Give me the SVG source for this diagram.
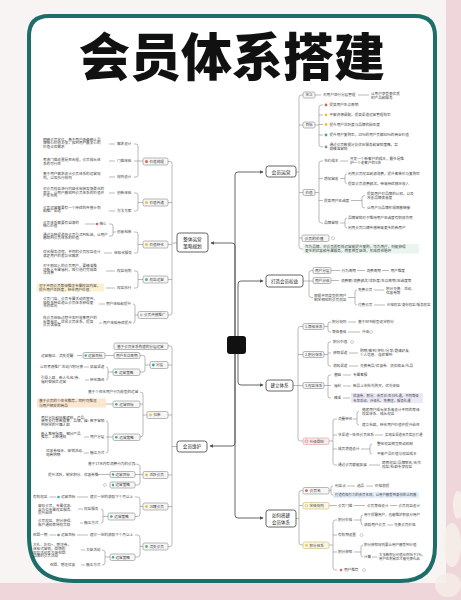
<svg xmlns="http://www.w3.org/2000/svg" width="461" height="600" viewBox="0 0 461 600">
<defs>
<style>
text{font-family:"Noto Sans CJK SC","Noto Sans",sans-serif;fill:#444}
.s{font-size:3.6px}
.m{font-size:3.8px;fill:#333}
.L{font-size:4.8px;fill:#222}
.b1{fill:#fff;stroke:#555;stroke-width:0.9}
.b2{fill:#f6f6f6;stroke:#8a8a8a;stroke-width:0.6}
.by{fill:#fdf6e0;stroke:#cdb77a;stroke-width:0.6}
.c{fill:none;stroke:#8a8a8a;stroke-width:0.6}
.tk{fill:none;stroke:#555;stroke-width:0.9}
.inf{fill:none;stroke:#888;stroke-width:0.4}
.red{fill:#e06060}.yel{fill:#e8c547}.grn{fill:#5bb58a}.tea{fill:#3aa7a0}.blu{fill:#7090d8}.gry{fill:#b8c4cc}
</style>
<marker id="ar" viewBox="0 0 6 6" refX="5" refY="3" markerWidth="4" markerHeight="4" orient="auto"><path d="M0,0 L6,3 L0,6 Z" fill="#555"/></marker>
</defs>
<rect width="461" height="600" fill="#f8f4f4"/>
<rect x="446" y="0" width="15" height="600" fill="#efd6da"/>
<rect x="0" y="583" width="461" height="17" fill="#efd6da"/>
<g opacity="0.85"><ellipse cx="452" cy="545" rx="9" ry="22" fill="#f8f1ea"/><ellipse cx="448" cy="585" rx="13" ry="12" fill="#f6ede6"/><ellipse cx="458" cy="505" rx="5" ry="14" fill="#f8f1ea"/></g>
<path d="M49 16 H415 Q435 16 435 36 V546 Q435 581 400 581 H74 Q29 581 29 536 V36 Q29 16 49 16 Z" fill="#fff" stroke="#1d6e69" stroke-width="4"/>
<text x="232" y="76" font-size="51" font-weight="900" text-anchor="middle" style="fill:#111">会员体系搭建</text>

<g id="connectors">
<path class="tk" marker-end="url(#ar)" d="M235 336 V175 Q235 172 238 172 H263"/>
<path class="tk" marker-end="url(#ar)" d="M235 336 V246 Q235 243 232 243 H211"/>
<path class="tk" marker-end="url(#ar)" d="M238 336 V284 Q238 281 241 281 H263"/>
<path class="tk" marker-end="url(#ar)" d="M238 354 V382 Q238 385 241 385 H263"/>
<path class="tk" marker-end="url(#ar)" d="M235 354 V443 Q235 446 232 446 H210"/>
<path class="tk" marker-end="url(#ar)" d="M235 354 V515 Q235 518 238 518 H263"/>
<path class="c" d="M168 161.5 H170 Q172 161.5 172 163.5 V313 Q172 315 170 315 H168 M168 202.5 H172 M168 244.5 H172 M168 279.5 H172 M172 243 H177"/>
<path class="c" d="M134 144 H136 Q138 144 138 146 V175 Q138 177 136 177 H134 M134 161 H143 M109 144 H115 M109 161 H115 M109 177 H115"/>
<path class="c" d="M134 193 H136 Q138 193 138 195 V209 Q138 211 136 211 H134 M138 202.5 H143 M109 193 H115 M109 211 H115"/>
<path class="c" d="M134 232 H136 Q138 232 138 234 V251 Q138 253 136 253 H134 M138 244.5 H143 M109 224 H111 Q113 224 113 226 V234 Q113 236 111 236 H109 M113 232 H116 M85 224 H95 M104 253 H112"/>
<path class="c" d="M134 271 H136 Q138 271 138 273 V286 Q138 288 136 288 H134 M138 279.5 H143 M106 271 H115 M106 288 H115"/>
<path class="c" d="M133 304 Q135 304 135 306 V321 Q135 323 133 323 M135 315 H138 M99 304 H105 M99 323 H102"/>
<path class="c" d="M168 346 H170 Q172 346 172 348 V544.5 Q172 546.5 170 546.5 H168 M168 365 H172 M168 415 H172 M168 475 H172 M168 506.5 H172 M172 446.5 H177"/>
<path class="c" d="M140 355.5 H143 Q145 355.5 145 357.5 V370 Q145 372 143 372 H140 M145 365 H150 M105 355.5 H114 M77 355.5 H82"/>
<path class="c" d="M106 367 Q108 367 108 369 V378 Q108 380 106 380 M108 372 H113 M84 367 H89 M85 380 H89"/>
<path class="c" d="M140 392 Q143 392 143 394.5 V434.5 Q143 437 140 437 M140 404 H143 M143 415 H147 M106 404 H113"/>
<path class="c" d="M106 421 Q108 421 108 423 V451 Q108 453 106 453 M106 437 H113 M84 421 H89 M84 437 H89 M84 453 H89"/>
<path class="c" d="M134 464 Q140 464 140 466.5 V482.5 Q140 485 137.5 485 H135 M135 474.5 H143 M97 474.5 H110"/>
<path class="c" d="M135 497 H137.5 Q140 497 140 499.5 V514 Q140 516.5 137.5 516.5 H135 M140 506.5 H143 M49.5 497 H56 M77 497 H88"/>
<path class="c" d="M101 509 Q103 509 103 511 V521 Q103 523 101 523 M103 516.5 H108 M78 509 H83 M80 523 H83"/>
<path class="c" d="M135 535 H137.5 Q140 535 140 537.5 V554.5 Q140 557 137.5 557 H135 M140 546.5 H143 M49.5 535 H56 M77 535 H88"/>
<path class="c" d="M102 550 Q105 550 105 552 V563 Q105 565 102 565 M105 557 H110 M81 550 H85 M81 565 H85"/>
<path class="c" d="M303 95 H301.5 Q299 95 299 97.5 V246.5 Q299 249 301.5 249 H303 M299 125 H303 M299 192.5 H303 M299 238 H302 M296 172 H299"/>
<path class="c" d="M315 95 H321 M358 95 H369"/>
<path class="c" d="M323 105 H321.5 Q319 105 319 107.5 V144.5 Q319 147 321.5 147 H323 M319 115 H323 M319 124.5 H323 M319 135 H323 M315 125 H319"/>
<path class="c" d="M323 161 H321.5 Q319 161 319 163.5 V220.5 Q319 223 321.5 223 H323 M319 178.5 H323 M319 200.5 H323 M315 192.5 H319 M340 161 H348"/>
<path class="c" d="M340 178.5 H345 M347 174 Q345 174 345 176 V181.5 Q345 183.5 347 183.5"/>
<path class="c" d="M351 200.5 H362 M365 195.5 Q362 195.5 362 198 V205.5 Q362 208 365 208"/>
<path class="c" d="M340 223 H345 M347 218 Q345 218 345 220 V226 Q345 228 347 228"/>
<path class="c" d="M313 270.5 H311.5 Q309 270.5 309 273 V295 Q309 297.5 311.5 297.5 H313 M303 281 H313"/>
<path class="c" d="M331 270.5 H340 M357 270.5 H365 M382 270.5 H389 M331 280.5 H339"/>
<path class="c" d="M348 297.5 H355 M357 290 Q355 290 355 292 V303 Q355 305 357 305 M374 290 H384 M374 305 H385"/>
<path class="c" d="M303 326.5 H300.5 Q298 326.5 298 329 V438.5 Q298 441 300.5 441 H303 M298 354.5 H303 M293 385.5 H303"/>
<path class="c" d="M331 322 H330 Q328 322 328 324 V330 Q328 332 330 332 H331 M324 326.5 H328 M348 322 H356 M348 332 H360"/>
<path class="c" d="M331 342 H330 Q328 342 328 344 V364 Q328 366 330 366 H331 M324 354.5 H328 M328 353 H331 M349 353 H358 M349 366 H358"/>
<path class="c" d="M331 375 H330 Q328 375 328 377 V396 Q328 398 330 398 H331 M324 385.5 H331 M343 375 H351 M343 386 H351 M343 398 H350"/>
<path class="c" d="M337 419 H335.5 Q333 419 333 421.5 V462.5 Q333 465 335.5 465 H337 M333 435 H337 M333 449 H337 M329 441 H333"/>
<path class="c" d="M353 419 H357 M359 411.5 Q357 411.5 357 413.5 V423 Q357 425 359 425 M375 435 H383"/>
<path class="c" d="M361 449 H370 M372 444 Q370 444 370 446 V452 Q370 454 372 454 M369 465 H380"/>
<path class="c" d="M303 490.5 H301.5 Q299 490.5 299 493 V542.5 Q299 545 301.5 545 H303 M299 505.5 H303 M296 518.5 H299"/>
<path class="c" d="M333 486 Q331 486 331 488 V493 Q331 495 333 495 M329 490.5 H331 M347 486 H355 M366 486 H373"/>
<path class="c" d="M329 505.5 H337 M354 505.5 H365 M390 505.5 H397"/>
<path class="c" d="M337 520 H335.5 Q333 520 333 522.5 V567.5 Q333 570 335.5 570 H337 M333 535 H337 M329 545 H333 M333 552 H337"/>
<path class="c" d="M354 520 H361 M363 515 Q361 515 361 517 V523 Q361 525 363 525 M387 525 H393"/>
<path class="c" d="M354 552 H361 M363 545 Q361 545 361 547 V555 Q361 557 363 557 M372 557 H377"/>
</g>

<g id="center"><rect x="227" y="336" width="19" height="18" rx="3" fill="#111"/></g>

<g id="node-huiyuanyunying">
<rect class="b1" x="266" y="166" width="30" height="11" rx="2.5"/>
<text class="L" x="281" y="173.6" text-anchor="middle">会员运营</text>
<rect class="b2" x="303" y="92" width="12" height="6" rx="1.5"/><text class="s" x="305.4" y="96.3">定义</text>
<text class="s" x="323" y="96.3">对用户进行分层管理</text>
<text class="s" x="371" y="94.8">让用户享受更优质</text><text class="s" x="371" y="98.8">的产品和服务</text>
<rect class="b2" x="303" y="122" width="12" height="6" rx="1.5"/><text class="s" x="305.4" y="126.3">目标</text>
<circle class="red" cx="326" cy="105" r="1.4"/><text class="s" x="329.5" y="106.3">提高用户生命周期</text>
<circle class="yel" cx="326" cy="115" r="1.4"/><text class="s" x="329.5" y="116.3">平衡资源调配，提高渠道运营管理效率</text>
<circle class="yel" cx="326" cy="124.5" r="1.4"/><text class="s" x="329.5" y="125.8">提升用户活跃度与品牌的粘性度</text>
<circle class="tea" cx="326" cy="135" r="1.4"/><text class="s" x="329.5" y="136.3">提升用户复购率，20%的用户贡献80%的商业价值</text>
<circle class="blu" cx="326" cy="147" r="1.4"/><text class="s" x="329.5" y="146.3">通过会员数据分析优化服务和营销策略，实</text><text class="s" x="329.5" y="150.3">现精准营销</text>
<rect class="b2" x="303" y="189.5" width="12" height="6" rx="1.5"/><text class="s" x="305.4" y="193.8">价值</text>
<text class="s" x="324" y="162.3">节约成本</text>
<text class="s" x="350" y="159.8">开发一个新客户的成本，最多是维</text><text class="s" x="350" y="164.3">护一个老客户的5倍</text>
<text class="s" x="324" y="179.8">增加营收</text>
<text class="s" x="348" y="175.3">利用会员权益刺激消费，提升客单价与复购率</text>
<text class="s" x="348" y="184.8">提高会员消费频次，带来持续稳定收入</text>
<text class="s" x="324" y="201.8">提高用户忠诚度</text>
<text class="s" x="367" y="194.8">提高用户对品牌的认知，以及</text><text class="s" x="367" y="198.8">改善品牌满意度</text>
<text class="s" x="367" y="209.3">让用户与品牌形成情感链接</text>
<text class="s" x="324" y="224.3">品牌营销</text>
<text class="s" x="348" y="219.3">品牌营销对于维持用户忠诚度有积极作用</text>
<text class="s" x="348" y="229.3">利用会员口碑传播带来更多的新用户</text>
<rect class="b2" x="302" y="235" width="27" height="6.5" rx="1.5"/><text class="m" x="304.5" y="239.6">会员的价值</text>
<circle class="inf" cx="333" cy="238.2" r="1.6"/>
<rect x="303" y="244" width="116" height="9.5" fill="#e9f5ee"/>
<text class="s" x="305" y="247.8">作为品牌，对会员的有效运营能提升复购，作为用户，则能获得</text>
<text class="s" x="305" y="252.3">更多的优惠和专属服务，两者相互促进，形成良性循环</text>
</g>

<g id="node-dazaoquanyi">
<rect class="b1" x="266" y="275" width="37" height="12" rx="2.5"/>
<text class="L" x="284.5" y="282.8" text-anchor="middle" style="font-size:4.5px">打造会员权益</text>
<rect class="b2" x="313" y="267.5" width="18" height="6" rx="1.5"/><text class="s" x="315" y="271.8">用户分层</text>
<text class="s" x="341.5" y="271.8">行为周期</text><text class="s" x="366.5" y="271.8">消费周期</text><text class="s" x="390.5" y="271.8">用户维度</text>
<rect class="b2" x="313" y="277.5" width="18" height="6" rx="1.5"/><text class="s" x="315" y="281.8">用户分级</text>
<text class="s" x="341" y="281.8">消费额/消费频次/活跃度/生命周期/忠诚度等</text>
<text class="s" x="314" y="296.8">根据不同类型的用户</text><text class="s" x="314" y="300.8">制定相应的会员权益</text>
<text class="s" x="358" y="291.3">免费会员</text><text class="s" x="386" y="289.8">积分兑换、活动、</text><text class="s" x="386" y="293.8">优惠券等</text>
<text class="s" x="358" y="306.3">付费会员</text><text class="s" x="387" y="306.3" style="font-size:3.4px">价格权益/身份权益/服务权益</text>
</g>

<g id="node-jianlitixi">
<rect class="b1" x="266" y="380" width="27" height="11" rx="2.5"/>
<text class="L" x="279.5" y="387.3" text-anchor="middle" style="font-size:4.5px">建立体系</text>
<rect class="b2" x="303" y="323.5" width="21" height="6" rx="1.5"/><text class="s" x="305" y="327.8">1.等级体系</text>
<text class="s" x="332" y="323.3">积分规则</text><text class="s" x="358" y="323.3">基于RFM模型设定积分</text>
<text class="s" x="332" y="333.3">等级晋级</text><text class="s" x="362" y="333.3">升级</text><circle class="inf" cx="371" cy="332" r="1.5"/>
<rect class="b2" x="303" y="351.5" width="21" height="6" rx="1.5"/><text class="s" x="305" y="355.8">2.积分体系</text>
<text class="s" x="333" y="343.3">积分价值</text><circle class="inf" cx="352" cy="342" r="1.5"/>
<text class="s" x="333" y="354.3">获取渠道</text><text class="s" x="360" y="352.3">购物/签到/评价/分享/邀请好友、</text><text class="s" x="360" y="356.3">个人信息、连续签到</text>
<text class="s" x="333" y="367.3">消耗渠道</text><text class="s" x="360" y="367.3">兑换商品/优惠券、抵扣现金/礼品</text>
<rect class="b2" x="303" y="382.5" width="21" height="6" rx="1.5"/><text class="s" x="305" y="386.8">3.权益体系</text>
<text class="s" x="334" y="376.3">基础</text><text class="s" x="353" y="376.3">专属客服</text>
<text class="s" x="334" y="387.3">福利</text><text class="s" x="353" y="387.3">新品上市抢先购买，优先体验</text>
<text class="s" x="334" y="399.3">精准</text>
<rect x="351" y="393" width="72" height="10" fill="#ebe8f6"/>
<text class="s" x="353" y="396.8" style="font-size:3.4px">优惠券、积分、会员日/生日礼遇，不同等级</text>
<text class="s" x="353" y="401.8" style="font-size:3.4px">专享活动、升级礼、免费送、服务礼遇</text>
<rect x="303" y="438" width="26" height="6.5" rx="1.5" fill="#fbeaea" stroke="#d99" stroke-width="0.6"/>
<circle cx="306.5" cy="441.2" r="1.4" fill="none" stroke="#d66" stroke-width="0.6"/><text class="s" x="309.5" y="442.5">升级回应</text>
<text class="s" x="338" y="420.3">流量转化</text>
<text class="s" x="362" y="410.8">搭建用户成长体系来设计不同的等级</text><text class="s" x="362" y="414.8">权益体系、成长权益</text>
<text class="s" x="362" y="426.3">建立社群，转化用户价值并提升粘性</text>
<text class="s" x="338" y="436.3">多渠道一致性会员体系</text><text class="s" x="385" y="436.3" style="font-size:3.4px">实现全渠道会员信息打通</text>
<text class="s" x="338" y="450.3">成员增值设计</text>
<text class="s" x="377" y="445.3">整体权益相互联动机制</text><text class="s" x="377" y="455.3">平衡产品价值与权益成本</text>
<text class="s" x="338" y="466.3">通过会员赋能拓展</text>
<text class="s" x="382" y="464.3">跨界权益/品牌联名/合作</text><text class="s" x="382" y="468.3">权益/社群专享权益</text>
</g>

<g id="node-rujidajian">
<rect class="b1" x="266" y="510" width="30" height="17" rx="2.5"/>
<text class="L" x="281" y="517.2" text-anchor="middle" style="font-size:4.5px">如何搭建</text>
<text class="L" x="281" y="523.6" text-anchor="middle" style="font-size:4.5px">会员体系</text>
<rect class="b2" x="303" y="487.5" width="26" height="6.5" rx="1.5"/><circle class="red" cx="306.5" cy="490.7" r="1.4"/><text class="m" x="309.5" y="492">会员名</text>
<text class="s" x="335" y="487.3">利益点</text><text class="s" x="357" y="487.3">选品</text><text class="s" x="375" y="487.3">价格前提</text>
<rect x="333" y="492" width="86" height="6" fill="#e3eefa"/>
<text class="s" x="335" y="496.3" style="font-size:3.4px">打造有吸引力的会员名称，让用户感受到身份的认同感</text>
<rect class="by" x="303" y="502.5" width="26" height="6.5" rx="1.5"/><circle cx="306.5" cy="505.7" r="1.3" fill="none" stroke="#d8b640" stroke-width="0.6"/><text class="s" x="309.5" y="507">定级规则</text>
<text class="s" x="338" y="506.8">会员门槛</text><text class="s" x="367" y="506.8">会员等级设计</text><text class="s" x="398.5" y="506.8">会员权益设计</text>
<rect class="by" x="303" y="542" width="26" height="6.5" rx="1.5"/><circle class="yel" cx="306.5" cy="545.2" r="1.3"/><text class="s" x="309.5" y="546.5">积分体系</text>
<text class="s" x="338" y="521.3">积分价格</text>
<text class="s" x="364" y="516.3" style="font-size:3.5px">用于提醒用户，也能维护积极分用户</text>
<text class="s" x="364" y="526.3">激励用户会员</text><text class="s" x="394" y="526.3">兑换会员价格</text>
<text class="s" x="338" y="536.3">有效期设置</text><circle class="inf" cx="361.5" cy="535" r="1.5"/>
<text class="s" x="338" y="553.3">积分获取</text>
<text class="s" x="364" y="546.3" style="font-size:3.5px">积分获取规则要让用户感受到价值</text>
<text class="s" x="364" y="558.3">计算</text>
<text class="s" x="379" y="556.3" style="font-size:3.4px">大多数积分价值比例低于1%，</text><text class="s" x="379" y="560.3" style="font-size:3.4px">用户在积累后才能兑换礼品</text>
<circle class="red" cx="341" cy="570" r="1.3"/><text class="s" x="344" y="571.3">用户推荐</text><circle class="inf" cx="364" cy="570" r="1.5"/>
</g>

<g id="node-zhengtiyunying">
<rect class="b1" x="177" y="233" width="31" height="19" rx="2.5"/>
<text class="L" x="192.5" y="241" text-anchor="middle" style="font-size:4.6px">整体运营</text>
<text class="L" x="192.5" y="247.6" text-anchor="middle" style="font-size:4.6px">策略规划</text>
<rect class="b2" x="143" y="158" width="25" height="7" rx="1.5"/><circle class="red" cx="146.5" cy="161.5" r="1.5"/><text class="s" x="149.5" y="162.9">价值梳理</text>
<text class="s" x="43" y="140.5">明确会员定位，基于用户画像确认品</text><text class="s" x="43" y="144">牌核心价值主张，找到用户最关心的</text><text class="s" x="43" y="147.5">价值点及需求</text>
<text class="s" x="117" y="145.3">需求设计</text>
<text class="s" x="43" y="161.3">考虑门槛设置是否合理，会员成长体</text><text class="s" x="43" y="164.8">系的可行性</text>
<text class="s" x="117" y="162.3">门槛体验</text>
<text class="s" x="43" y="175.3">基于用户需求设计会员体系的运营规</text><text class="s" x="43" y="178.8">则，以及执行规则</text>
<text class="s" x="117" y="178.3">规则设计</text>
<rect class="b2" x="143" y="199" width="25" height="7" rx="1.5"/><circle class="yel" cx="146.5" cy="202.5" r="1.5"/><text class="s" x="149.5" y="203.9">价值传递</text>
<text class="s" x="43" y="190.3">对会员权益进行内容化包装及场景化的</text><text class="s" x="43" y="193.8">表达，让用户感知到会员体系的价值并</text><text class="s" x="43" y="197.3">产生共鸣</text>
<text class="s" x="117" y="194.3">创新体验</text>
<text class="s" x="43" y="208.8">会员运营需要有一个持续的传播计划</text><text class="s" x="43" y="212.3">和推广渠道</text>
<text class="s" x="117" y="212.3">方法方案</text>
<rect class="b2" x="143" y="241" width="25" height="7" rx="1.5"/><circle class="yel" cx="146.5" cy="244.5" r="1.5"/><text class="s" x="149.5" y="245.9">价值转化</text>
<text class="s" x="43" y="223.6">会员体系需要有自身的</text><text class="s" x="43" y="227.1">核心价值</text>
<circle class="red" cx="97" cy="224" r="1.3"/><text class="s" x="99.5" y="225.3">核心</text>
<text class="s" x="43" y="235.6">通过各种渠道将会员引流到私域，让用户</text><text class="s" x="43" y="239.1">感知到会员体系的价值</text>
<text class="s" x="117" y="233.3">创意包装</text>
<text class="s" x="43" y="253.3">优化服务流程，不同的会员权益设计</text><text class="s" x="43" y="256.8">满足用户的差异化需求</text>
<text class="s" x="114" y="254.3">体验化服务</text>
<rect class="b2" x="143" y="276" width="25" height="7" rx="1.5"/><circle class="grn" cx="146.5" cy="279.5" r="1.5"/><text class="s" x="149.5" y="280.9">权益运营</text>
<text class="s" x="43" y="267.1">对于刚加入的会员用户，要精准推</text><text class="s" x="43" y="270.6">送新人专属福利，吸引他们完成首</text><text class="s" x="43" y="274.1">次消费</text>
<text class="s" x="117" y="272.3">权益规划</text>
<rect x="37" y="283.5" width="67" height="8" fill="#fbf0cf"/>
<text class="s" x="39" y="287.3">对于不同会员等级推送专属权益内容，</text><text class="s" x="39" y="290.8">提升用户活跃度，转化用户价值</text>
<text class="s" x="117" y="289.3">权益执行</text>
<rect class="b2" x="138" y="311.5" width="30" height="7" rx="1.5"/><circle class="gry" cx="141.3" cy="315" r="1.4"/><text class="s" x="144" y="316.4">会员传播推广</text>
<text class="s" x="43" y="300.3">会员门店、会员专属活动的宣传，</text><text class="s" x="43" y="303.8">借助多种渠道让会员体系获得更</text><text class="s" x="43" y="307.3">多的曝光</text>
<text class="s" x="106" y="305.3">用户体验和提升</text>
<text class="s" x="43" y="319.3">在会员体验过程中及时收集用户的</text><text class="s" x="43" y="322.8">反馈意见，优化会员体系，提高</text><text class="s" x="43" y="326.3">会员满意度</text>
<text class="s" x="103" y="324.3">用户体验持续提升</text>
</g>

<g id="node-huiyuanweihu">
<rect class="b1" x="177" y="441" width="30" height="11" rx="2.5"/>
<text class="L" x="192" y="448.3" text-anchor="middle" style="font-size:4.6px">会员维护</text>
<rect class="b2" x="114" y="343" width="54" height="6.5" rx="1.5"/><text class="s" x="117" y="347.6">基于会员体系构建的分层运营</text>
<rect class="b2" x="150" y="361.5" width="18" height="7" rx="1.5"/><circle class="tea" cx="153.3" cy="365" r="1.4"/><text class="s" x="156" y="366.4">分层</text>
<rect class="b2" x="114" y="352.5" width="26" height="6" rx="1.5"/><text class="s" x="116" y="356.8">用户生命周期</text>
<rect class="b2" x="83" y="352.5" width="22" height="6" rx="1.5"/><circle class="tea" cx="85.7" cy="355.5" r="1.2"/><text class="s" x="88" y="356.8">运营目标</text>
<text class="s" x="41" y="356.8">运营触达、流失提醒</text>
<rect class="b2" x="113" y="369" width="27" height="6.5" rx="1.5"/><circle class="tea" cx="116" cy="372.2" r="1.3"/><text class="s" x="119" y="373.5">运营策略</text>
<text class="s" x="40" y="368.3">公司考虑推广活动/V积分换</text><text class="s" x="90" y="368.3">拓展渠道</text>
<text class="s" x="41" y="378.8">引导入群、新人礼包/券、</text><text class="s" x="41" y="382.8">福利餐抽奖运营</text><text class="s" x="90" y="381.3">转化路径</text>
<rect class="b2" x="147" y="411.5" width="21" height="7" rx="1.5"/><circle class="yel" cx="150.5" cy="415" r="1.4"/><text class="s" x="153.5" y="416.4">拉新</text>
<text class="s" x="88" y="393.3">基于个性化用户行为模型的运营</text>
<rect class="b2" x="113" y="401" width="27" height="6.5" rx="1.5"/><circle class="tea" cx="116.3" cy="404.2" r="1.3"/><text class="s" x="119.3" y="405.5">运营目标</text>
<rect x="37" y="398.5" width="69" height="9" fill="#fbe6cf"/>
<text class="s" x="39" y="402.3">基于会员的个性化推荐，同时可推送</text><text class="s" x="39" y="406.8">与用户相关的商品</text>
<rect class="b2" x="113" y="434" width="27" height="6.5" rx="1.5"/><circle class="tea" cx="116.3" cy="437.2" r="1.3"/><text class="s" x="119.3" y="438.5">运营策略</text>
<text class="s" x="41" y="418.6">用户分析和标签建模、产品、</text><text class="s" x="41" y="422.1">使用支付等数据集、品牌，找</text><text class="s" x="41" y="425.6">到特定的兴趣人群</text>
<text class="s" x="90" y="422.3">数字营销</text>
<text class="s" x="41" y="434.8">新人教育指南、细分产品</text><text class="s" x="41" y="438.3">推荐、上新通知</text>
<text class="s" x="90" y="438.3">用户分层</text>
<text class="s" x="46" y="451.8">优惠券组合、促销活动、</text><text class="s" x="46" y="455.8">电商购物</text>
<text class="s" x="90" y="454.3">触达方式</text>
<rect class="b2" x="143" y="471.5" width="25" height="7" rx="1.5"/><circle class="yel" cx="146.5" cy="475" r="1.4"/><text class="s" x="149.5" y="476.4">活跃会员</text>
<text class="s" x="88" y="465.3">基于17天内有消费行为的会员</text>
<rect class="b2" x="110" y="471.5" width="25" height="6" rx="1.5"/><circle class="tea" cx="113" cy="474.5" r="1.2"/><text class="s" x="115.5" y="475.8">运营目标</text>
<text class="s" x="48" y="475.8">提升活跃，制定积分、优惠券推</text>
<rect class="b2" x="110" y="482" width="25" height="6" rx="1.5"/><circle class="tea" cx="113" cy="485" r="1.2"/><text class="s" x="115.5" y="486.3">运营策略</text>
<circle class="inf" cx="105" cy="485" r="1.5"/>
<rect class="b2" x="143" y="503" width="25" height="7" rx="1.5"/><circle class="yel" cx="146.5" cy="506.5" r="1.4"/><text class="s" x="149.5" y="507.9">沉睡会员</text>
<text class="s" x="33" y="498.3">有效权益</text><circle class="tea" cx="58.5" cy="497" r="1.3"/><text class="s" x="61" y="498.3">运营目标</text>
<text class="s" x="90" y="498.3">建议一定的激励下个月以上</text>
<rect class="b2" x="108" y="513" width="27" height="7" rx="1.5"/><circle class="tea" cx="111.3" cy="516.5" r="1.3"/><text class="s" x="114.3" y="517.9">运营策略</text>
<text class="s" x="38" y="507.3">留存会员、专属优惠、</text><text class="s" x="38" y="510.8">全方位专属权益服务、</text><text class="s" x="38" y="514.3">提升粘性</text>
<text class="s" x="84" y="510.3">权益服务</text>
<text class="s" x="38" y="521.8">会员权益、积分获得、</text><text class="s" x="38" y="525.8">账户通知等特权奖励</text>
<text class="s" x="84" y="524.3">触达方式</text>
<rect class="b2" x="143" y="543" width="25" height="7" rx="1.5"/><circle class="grn" cx="146.5" cy="546.5" r="1.4"/><text class="s" x="149.5" y="547.9">流失会员</text>
<text class="s" x="33" y="536.3">召回一期</text><circle class="tea" cx="58.5" cy="535" r="1.3"/><text class="s" x="61" y="536.3">运营目标</text>
<text class="s" x="90" y="536.3">建议一定的激励下个月以上</text>
<rect class="b2" x="110" y="554" width="25" height="6.5" rx="1.5"/><circle class="tea" cx="113" cy="557.2" r="1.2"/><text class="s" x="115.5" y="558.5">运营策略</text>
<text class="s" x="33" y="546.3">大礼、折扣+、赠送券，</text><text class="s" x="33" y="550">体验式营销，回馈的</text><text class="s" x="33" y="553.7">权益活动及大促召回</text><text class="s" x="33" y="557.3">品牌的会员活动</text>
<text class="s" x="86" y="551.3">大促活动</text>
<text class="s" x="50" y="566.3">召回、赠送优惠</text><text class="s" x="86" y="566.3">触达方式</text>
</g>
</svg>
